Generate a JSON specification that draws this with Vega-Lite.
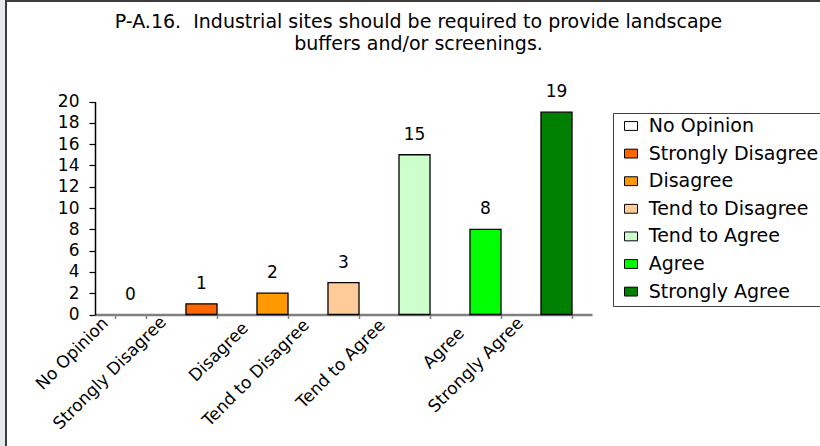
{
  "$schema": "https://vega.github.io/schema/vega-lite/v6.json",
  "width": 820,
  "height": 447,
  "autosize": {"type": "none"},
  "padding": {"left": 6, "top": 1, "right": 0, "bottom": 0},
  "background": "#e6e9ec",
  "config": {
    "view": {"stroke": "#3c3c3c", "strokeWidth": 2, "fill": "white"},
    "font": "DejaVu Sans"
  },
  "title": {
    "text": ["P-A.16.\u00a0 Industrial sites should be required to provide landscape", "buffers and/or screenings."],
    "font": "DejaVu Sans",
    "fontSize": 19,
    "fontWeight": "normal",
    "color": "#000000",
    "anchor": "middle",
    "frame": "group",
    "baseline": "alphabetic",
    "offset": -68,
    "dx": 2.5,
    "lineHeight": 22
  },
  "data": {
    "values": [
      {"category": "No Opinion", "count": 0},
      {"category": "Strongly Disagree", "count": 1},
      {"category": "Disagree", "count": 2},
      {"category": "Tend to Disagree", "count": 3},
      {"category": "Tend to Agree", "count": 15},
      {"category": "Agree", "count": 8},
      {"category": "Strongly Agree", "count": 19}
    ]
  },
  "encoding": {
    "x": {
      "field": "category",
      "type": "nominal",
      "sort": null,
      "scale": {
        "domain": ["No Opinion", "Strongly Disagree", "Disagree", "Tend to Disagree", "Tend to Agree", "Agree", "Strongly Agree"],
        "range": [89, 586],
        "paddingInner": 0.563,
        "paddingOuter": 0.2815
      },
      "axis": {
        "orient": "bottom",
        "offset": -133.5,
        "title": null,
        "grid": false,
        "domainColor": "#808080",
        "domainWidth": 2.5,
        "tickColor": "#808080",
        "tickWidth": 1.5,
        "tickSize": 4,
        "tickBand": "extent",
        "labelAngle": -45,
        "labelAlign": "right",
        "labelBaseline": "top",
        "labelFont": "DejaVu Sans",
        "labelFontSize": 17,
        "labelColor": "#000000",
        "labelOverlap": false,
        "labelLimit": 300,
        "labelOffset": {
          "condition": [
            {"test": "datum.value === 'No Opinion'", "value": -31},
            {"test": "datum.value === 'Strongly Disagree'", "value": -44},
            {"test": "datum.value === 'Disagree'", "value": -33},
            {"test": "datum.value === 'Tend to Disagree'", "value": -43},
            {"test": "datum.value === 'Tend to Agree'", "value": -38},
            {"test": "datum.value === 'Agree'", "value": -30}
          ],
          "value": -42
        },
        "labelPadding": {
          "condition": [
            {"test": "datum.value === 'No Opinion'", "value": -4},
            {"test": "datum.value === 'Strongly Disagree'", "value": -5},
            {"test": "datum.value === 'Disagree'", "value": 1},
            {"test": "datum.value === 'Tend to Disagree'", "value": -2},
            {"test": "datum.value === 'Tend to Agree'", "value": -2},
            {"test": "datum.value === 'Agree'", "value": 6}
          ],
          "value": -4
        }
      }
    }
  },
  "layer": [
    {
      "transform": [{"filter": "datum.count > 0"}],
      "mark": {"type": "bar", "stroke": "#000000", "strokeWidth": 1.3},
      "encoding": {
        "y": {
          "field": "count",
          "type": "quantitative",
          "scale": {"domain": [0, 20], "range": [313.5, 100.5], "nice": false, "zero": true},
          "axis": {
            "orient": "left",
            "offset": -89,
            "title": null,
            "grid": false,
            "values": [0, 2, 4, 6, 8, 10, 12, 14, 16, 18, 20],
            "domainColor": "#000000",
            "domainWidth": 1.5,
            "tickColor": "#000000",
            "tickWidth": 1.2,
            "tickSize": 6,
            "labelFont": "DejaVu Sans",
            "labelFontSize": 17,
            "labelColor": "#000000",
            "labelPadding": 10
          }
        },
        "color": {
          "field": "category",
          "type": "nominal",
          "sort": null,
          "scale": {
            "domain": ["No Opinion", "Strongly Disagree", "Disagree", "Tend to Disagree", "Tend to Agree", "Agree", "Strongly Agree"],
            "range": ["#FFFFFF", "#FF6600", "#FF9900", "#FFCC99", "#CCFFCC", "#00FF00", "#008000"]
          },
          "legend": {
            "orient": "none",
            "legendX": 607,
            "legendY": 112,
            "title": null,
            "labelFont": "DejaVu Sans",
            "labelFontSize": 19,
            "labelColor": "#000000",
            "labelLimit": 400,
            "labelOffset": 8.3,
            "symbolType": "M-1,-0.68H1V0.68H-1Z",
            "symbolSize": 169,
            "symbolStrokeColor": "#000000",
            "symbolStrokeWidth": 1,
            "symbolOpacity": 1,
            "symbolOffset": 5,
            "rowPadding": 7.6,
            "padding": 3.5,
            "strokeColor": "#404040",
            "fillColor": "#FFFFFF",
            "cornerRadius": 0
          }
        }
      }
    },
    {
      "mark": {"type": "text", "baseline": "alphabetic", "dy": -15, "font": "DejaVu Sans", "fontSize": 17, "color": "#000000"},
      "encoding": {
        "y": {"field": "count", "type": "quantitative"},
        "text": {"field": "count", "type": "quantitative"}
      }
    }
  ]
}
